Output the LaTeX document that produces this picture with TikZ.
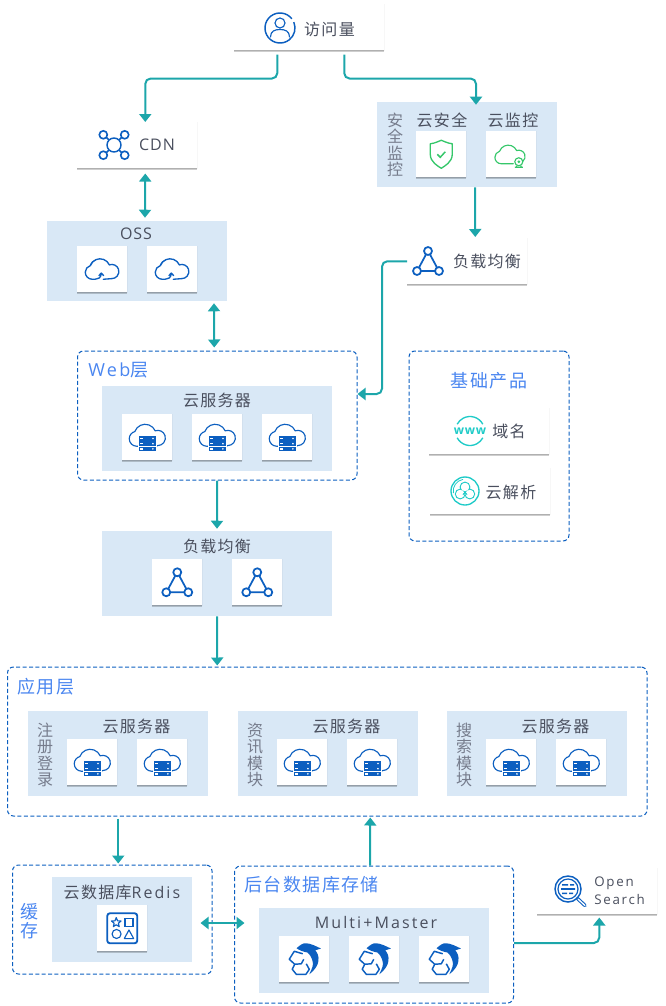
\documentclass[tikz,border=0pt]{standalone}
\usepackage{fontspec}
\setmainfont[LetterSpace=13]{Open Sans}
\newfontfamily\tightfont[LetterSpace=6]{Open Sans}
\newfontfamily\cjkfont[LetterSpace=8]{Noto Sans CJK SC}
\newcommand\cn[1]{{\cjkfont #1}}
\usetikzlibrary{arrows.meta,fit,shadows}
\definecolor{panelblue}{HTML}{D9E8F6}
\definecolor{tealc}{HTML}{1CA6AA}
\definecolor{iconblue}{HTML}{0C5FC0}
\definecolor{titleblue}{HTML}{4A86F0}
\definecolor{textc}{HTML}{4A4F5E}
\definecolor{vertc}{HTML}{767C8C}
\definecolor{greenc}{HTML}{35C76A}
\definecolor{cyanc}{HTML}{1FCBC8}
\tikzset{
  panel/.style={fill=panelblue,draw=none,inner sep=0pt},
  dashbox/.style={draw=iconblue,line width=.75pt,dash pattern=on 3pt off 1.8pt,rounded corners=4.5pt,inner sep=0pt},
  card/.style={fill=white,draw=none,inner sep=0pt,
    general shadow={shadow xshift=0pt,shadow yshift=0pt,fill=black,draw=black,line width=.9pt,opacity=.03},
    general shadow={shadow xshift=0pt,shadow yshift=-1.5pt,fill=black,opacity=.07},
    general shadow={shadow xshift=0pt,shadow yshift=-1pt,fill=black,opacity=.13},
    general shadow={shadow xshift=0pt,shadow yshift=-.5pt,fill=black,opacity=.12}},
  lbl/.style={text=textc,font=\fontsize{12}{13}\selectfont,inner sep=0pt},
  vlbl/.style={text=vertc,font=\fontsize{12}{12.4}\selectfont,align=center,inner sep=0pt},
  ttl/.style={text=titleblue,font=\fontsize{13.5}{15}\selectfont,inner sep=0pt},
  conn/.style={draw=tealc,line width=1.5pt,rounded corners=4pt,-{Triangle[width=9pt,length=6pt]}},
  dconn/.style={conn,{Triangle[width=9pt,length=6pt]}-{Triangle[width=9pt,length=6pt]}},
  ic/.style={draw=iconblue,line width=.85pt},
  gi/.style={draw=greenc,line width=.85pt},
  ci/.style={draw=cyanc,line width=.85pt},
  pics/user/.style={code={\begin{scope}[y=.75pt]
    \draw[ic,line width=1.1pt] (38:15) arc (38:395-12:15);
    \draw[ic] (0,5) circle (5);
    \draw[ic,line cap=round] (-9.5,-9) .. controls (-9.5,-3) and (-5,-1.5) .. (0,-1.5) .. controls (5,-1.5) and (9.5,-3) .. (9.5,-9);
  \end{scope}}},
  pics/cdnic/.style={code={\begin{scope}[y=.75pt]
    \draw[ic,line width=1.1pt] (0,0) circle (7);
    \draw[ic,line width=1.1pt] (-5,5)--(-8,8) (5,5)--(8,8) (-5,-5)--(-8,-8) (5,-5)--(8,-8);
    \foreach \sx/\sy in {-1/1,1/1,-1/-1,1/-1}{\draw[ic,line width=1.2pt] (\sx*10.7,\sy*10.2) circle (4);}
  \end{scope}}},
  pics/triic/.style={code={\begin{scope}[y=.75pt]
    \draw[ic,line width=1.3pt] (-2,6.5)--(-9,-6.5) (2,6.5)--(9,-6.5) (-7,-10)--(7,-10);
    \draw[ic,line width=1.3pt] (0,10) circle (4) (-11,-10) circle (4) (11,-10) circle (4);
  \end{scope}}},
  pics/cloudup/.style={code={\begin{scope}[y=.75pt,shift={(0,-1)}]
    \draw[ic,line width=1pt,line cap=round] (-7,-9) -- (-10,-9) arc (270:105:7) arc (160:24:10.2) arc (110:-90:7.1) -- (1,-9);
    \draw[ic,line width=.6pt] (-12,5.5) arc (160:100:7.5);
    \draw[ic,line width=1pt] (-7,-9) .. controls (-4,-9) and (-1.5,-7.5) .. (-1,-3.5);
    \draw[ic,line width=1pt,line join=round] (-3.5,-5.5)--(-1,-2.8)--(1.5,-5.5);
  \end{scope}}},
  pics/cloudsrv/.style={code={\begin{scope}[y=.75pt]
    \draw[ic,line cap=round] (-8,-9) -- (-10.5,-9) arc (270:105:7.5) arc (160:24:11) arc (110:-90:7.6) -- (9.5,-8.8);
    \fill[white] (-9.5,2) rectangle (9.5,-15);
    \foreach \yy in {1,-4.2,-9.4}{
      \fill[iconblue] (-8.7,\yy) rectangle (8.7,\yy-4.4);
      \fill[white] (5.7,\yy-2.2) circle (.9);
      \fill[white] (-7.5,\yy-1.4) rectangle (-4.5,\yy-3);
    }
  \end{scope}}},
  pics/shieldic/.style={code={\begin{scope}[y=.75pt]
    \draw[gi,line width=1pt,line join=round] (-11,10.5) .. controls (-6,11) and (-3,13) .. (0,14) .. controls (3,13) and (6,11) .. (11,10.5) -- (11,0) .. controls (11,-8) and (3,-12) .. (0,-14) .. controls (-3,-12) and (-11,-8) .. (-11,0) -- cycle;
    \draw[gi,line width=1.1pt] (-4,0)--(-1,-3)--(4,2.5);
  \end{scope}}},
  pics/cloudcam/.style={code={\begin{scope}[y=.75pt]
    \draw[gi,line cap=round] (2,-9.5) -- (-10,-9.5) arc (270:105:6.4) arc (160:24:9.2) arc (110:-50:6.3);
    \draw[gi,fill=white] (7.5,-7.5) circle (4);
    \fill[greenc] (7.5,-7.5) circle (1.5);
    \draw[gi] (3.5,-13)--(11.5,-13) (5.5,-11.5)--(5,-13) (9.5,-11.5)--(10,-13);
  \end{scope}}},
  pics/wwwic/.style={code={\begin{scope}[y=.75pt]
    \draw[ci,line width=1pt] (28:14.5) arc (28:152:14.5) (208:14.5) arc (208:332:14.5);
    \node[text=cyanc,inner sep=0pt,font=\tightfont\bfseries\fontsize{9}{9}\selectfont] (wwwtxt) at (0,0) {www};
  \end{scope}}},
  pics/dnsic/.style={code={\begin{scope}[y=.75pt]
    \draw[ci,line width=1pt] (0,0) circle (14);
    \draw[ci,line width=.6pt] (100:11.8) arc (100:190:11.8);
    \draw[ci] (0,4) circle (4.8) (-4.8,-3) circle (4.8) (4.8,-3) circle (4.8);
    \fill[white] (0,4) circle (4.2) (-4.8,-3) circle (4.2) (4.8,-3) circle (4.2);
    \draw[ci,line width=.6pt] (-2,-4) arc (180:0:2);
  \end{scope}}},
  pics/redisic/.style={code={\begin{scope}[y=.75pt]
    \draw[ic,line width=1.4pt,rounded corners=2pt] (-15,-15) rectangle (15,15);
    \draw[ic,line join=round,shift={(-6,5.7)}] (90:5)--(126:2.2)--(162:5)--(198:2.2)--(234:5)--(270:2.2)--(306:5)--(342:2.2)--(18:5)--(54:2.2)--cycle;
    \draw[ic] (2.7,1.7) rectangle (10.7,9.7);
    \draw[ic] (-5.7,-5.7) circle (4.5);
    \draw[ic,line join=round] (2,-10.3)--(11.4,-10.3)--(6.7,-1.7)--cycle;
  \end{scope}}},
  pics/dolphin/.style={code={\begin{scope}[y=.75pt]
    \fill[iconblue] (-7.7,11) .. controls (-4,14.5) and (-1,16.5) .. (2,16) .. controls (6,16) and (12,13) .. (16.7,10.7) -- (11,9) .. controls (15.5,4) and (17,-6) .. (5,-15) .. controls (8,-9) and (9.5,-5) .. (8.3,-2) .. controls (7.5,2) and (5,5.5) .. (3,6.8) .. controls (-1,7.5) and (-5,9) .. (-7.7,11) -- cycle;
    \draw[ic,line width=1.1pt,line join=round] (-1.5,5.5)--(-10,8)--(-15,0)--(-9.5,-5)--(-12,-10)--(-8,-15)--(1.7,-15)--(5,-10)--(2,-4.5);
    \draw[ic,line width=1.1pt,line join=round] (-9.5,-5)--(-3,-4.5)--(-.5,0);
  \end{scope}}},
  pics/searchic/.style={code={\begin{scope}[y=.75pt]
    \draw[ic,line width=1.1pt] (0,0) circle (13);
    \draw[ic,line width=.9pt] (0,0) circle (10);
    \fill[iconblue] (-6,3.5) rectangle (0,5) (2,3.5) rectangle (6,5) (-7,.8) rectangle (7,-.8) (-6,-3.5) rectangle (-1,-5) (1,-3.5) rectangle (5,-5);
    \draw[iconblue,line width=2.6pt,line cap=round] (9.5,-9.5)--(17,-16.5);
    \draw[white,line width=1pt,line cap=round] (10,-10)--(17,-16.5);
  \end{scope}}},
}
\newcommand\iconcard[3]{\node[card,minimum width=37.5pt,minimum height=34.5pt,anchor=north west] (#1) at (#2) {};\pic at (#1) {#3};}
\newcommand\widecard[2]{\node[card,minimum width=90pt,minimum height=34.5pt,anchor=north west] (#1) at (#2) {};}
\begin{document}
\begin{tikzpicture}[x=.75pt,y=-.75pt]
\useasboundingbox (0,0) rectangle (665,1006);
% dashed containers
\node[dashbox,fit={(77.5,351)(357,480)}] (web) {};
\node[dashbox,fit={(409,351)(569,541)}] (base) {};
\node[dashbox,fit={(7.5,667)(647,816)}] (app) {};
\node[dashbox,fit={(12.5,865)(212,974)}] (cache) {};
\node[dashbox,fit={(234.5,866)(513.5,1003)}] (db) {};
% panels
\node[panel,fit={(377,102)(557,187)}] (secu) {};
\node[panel,fit={(47,221)(227,301)}] (oss) {};
\node[panel,fit={(102,386)(332,471)}] (websrv) {};
\node[panel,fit={(102,531)(332,616)}] (lbpanel) {};
\node[panel,fit={(28,711)(208,796)}] (p1) {};
\node[panel,fit={(238,711)(418,796)}] (p2) {};
\node[panel,fit={(447,711)(627,796)}] (p3) {};
\node[panel,fit={(52,877)(192,962)}] (redis) {};
\node[panel,fit={(259,908)(489,993)}] (mm) {};
% top and wide cards
\node[card,minimum width=112.5pt,minimum height=34.5pt,anchor=north west] (top) at (234,4) {};
\pic at (280,28) {user};
\node[lbl] (toptxt) at (329.5,29) {\cn{访问量}};
\widecard{cdn}{77,122}
\pic at (114,145) {cdnic};
\node[lbl] (cdntxt) at (157,145) {\tightfont CDN};
\widecard{lbc}{407,238}
\pic at (428,261) {triic};
\node[lbl] (lbctxt) at (487,261) {\cn{负载均衡}};
\widecard{dom}{429,408}
\pic at (470,431) {wwwic};
\node[lbl] (domtxt) at (509,431) {\cn{域名}};
\widecard{dns}{430,468}
\pic at (465,491) {dnsic};
\node[lbl] (dnstxt) at (511,492) {\cn{云解析}};
\widecard{open}{537,868}
\pic at (568,889) {searchic};
\node[lbl,align=left,anchor=west,font=\fontsize{10}{13.5}\selectfont] (opentxt) at (594,891) {Open\\Search};
% labels
\node[lbl] (secl1) at (442,120) {\cn{云安全}};
\node[lbl] (secl2) at (513,120) {\cn{云监控}};
\node[vlbl] (secv) at (395,145) {\cn{安}\\\cn{全}\\\cn{监}\\\cn{控}};
\node[lbl] (osstxt) at (136,234) {\tightfont OSS};
\node[ttl,anchor=west] (webttl) at (88,370) {Web\cn{层}};
\node[lbl] (websrvtxt) at (217,400) {\cn{云服务器}};
\node[ttl] (basettl) at (489,381) {\cn{基础产品}};
\node[lbl] (lbptxt) at (217,546) {\cn{负载均衡}};
\node[ttl,anchor=west] (appttl) at (17,687) {\cn{应用层}};
\node[lbl] (p1txt) at (136.5,726) {\cn{云服务器}};
\node[lbl] (p2txt) at (346.5,726) {\cn{云服务器}};
\node[lbl] (p3txt) at (555.5,726) {\cn{云服务器}};
\node[vlbl] (p1v) at (45,755) {\cn{注}\\\cn{册}\\\cn{登}\\\cn{录}};
\node[vlbl] (p2v) at (255,755) {\cn{资}\\\cn{讯}\\\cn{模}\\\cn{块}};
\node[vlbl] (p3v) at (464,755) {\cn{搜}\\\cn{索}\\\cn{模}\\\cn{块}};
\node[lbl] (redistxt) at (122,892) {\cn{云数据库}Redis};
\node[ttl,align=center,font=\fontsize{13.5}{14.5}\selectfont] (cachettl) at (30,921) {\cn{缓}\\\cn{存}};
\node[ttl,anchor=west] (dbttl) at (244,885) {\cn{后台数据库存储}};
\node[lbl] (mmtxt) at (376,922) {Multi+Master};
% icon cards
\iconcard{s1}{416,131}{shieldic}
\iconcard{s2}{486,131}{cloudcam}
\iconcard{o1}{77,246}{cloudup}
\iconcard{o2}{147,246}{cloudup}
\iconcard{w1}{122,414}{cloudsrv}
\iconcard{w2}{192,414}{cloudsrv}
\iconcard{w3}{262,414}{cloudsrv}
\iconcard{l1}{152,559}{triic}
\iconcard{l2}{232,559}{triic}
\iconcard{a1}{67,739}{cloudsrv}
\iconcard{a2}{137,739}{cloudsrv}
\iconcard{a3}{277,739}{cloudsrv}
\iconcard{a4}{347,739}{cloudsrv}
\iconcard{a5}{486,739}{cloudsrv}
\iconcard{a6}{556,739}{cloudsrv}
\iconcard{r1}{97,905}{redisic}
\iconcard{m1}{279,936}{dolphin}
\iconcard{m2}{349,936}{dolphin}
\iconcard{m3}{419,936}{dolphin}
% connectors
\draw[conn] ([shift={(-32,4)}]top.south) -- ++(0,24) -| ([shift={(8,0)}]cdn.north);
\draw[conn] ([shift={(35,4)}]top.south) -- ++(0,24) -| ([shift={(9,3)}]secu.north);
\draw[dconn] ([shift={(8,5)}]cdn.south) -- ([shift={(8,-3)}]oss.north);
\draw[dconn] ([shift={(77,2)}]oss.south) -- ([shift={(-3,-3)}]web.north);
\draw[conn] ([shift={(8,0)}]secu.south) -- ([shift={(8,-1)}]lbc.north);
\draw[conn] (lbc.west) -- ++(-25,0) |- ([shift={(0,-21.5)}]web.east);
\draw[conn] (web.south) -- ([shift={(0,-2)}]lbpanel.north);
\draw[conn] (lbpanel.south) -- ([shift={(-110,-1)}]app.north);
\draw[conn] ([shift={(-209,2)}]app.south) -- ([shift={(6,-1)}]cache.north);
\draw[conn] ([shift={(-4,0)}]db.north) -- ([shift={(43,1)}]app.south);
\draw[dconn] ([shift={(-12,3.5)}]cache.east) -- ([shift={(10.5,-11.5)}]db.west);
\draw[conn] ([shift={(0,8.5)}]db.east) -| ([shift={(2,3)}]open.south);
\end{tikzpicture}
\end{document}
